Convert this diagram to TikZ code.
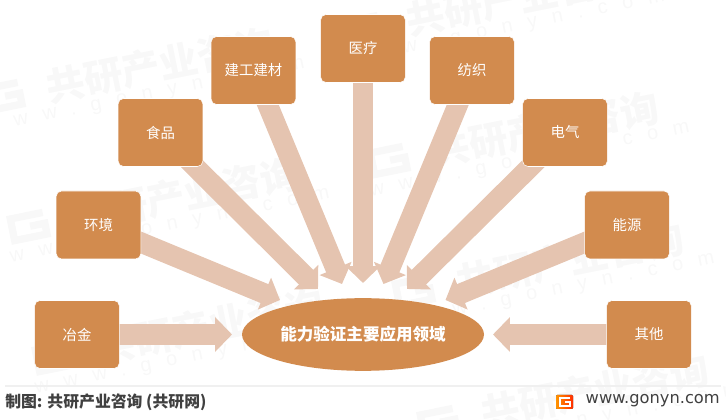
\documentclass[tikz,border=0pt]{standalone}
\usepackage{fontspec}
\setmainfont{Noto Sans CJK SC}
\newfontfamily\latinfont{DejaVu Sans}
\newfontfamily\markfont[LetterSpace=75]{Liberation Sans}
\usetikzlibrary{arrows.meta,backgrounds,shapes.geometric}
\definecolor{boxorange}{HTML}{D28B4E}
\definecolor{flowpink}{HTML}{E5C4B0}
\definecolor{markgray}{HTML}{F8F8F8}
\definecolor{footgray}{HTML}{F0F0F0}
\definecolor{foottext}{HTML}{404040}
\tikzset{
	appbox/.style={rectangle, rounded corners=4pt, draw=white, line width=0.4pt, fill=boxorange, text=white, minimum width=63.5pt, minimum height=51pt, inner sep=0pt, font=\fontsize{10.8}{12}\selectfont},
	hubell/.style={ellipse, fill=boxorange, text=white, minimum width=181.5pt, minimum height=54.5pt, inner sep=0pt, font=\fontsize{12.4}{14}\bfseries},
	flowarrow/.style={draw=flowpink, line width=15.3pt, -{Triangle[width=25.2pt,length=12.6pt,fill=flowpink]}},
	marktext/.style={text=markgray, rotate=11.4, font=\fontsize{29}{30}\bfseries},
	markweb/.style={text=markgray, rotate=11.4, font=\fontsize{15}{16}\markfont}
}

\begin{document}
\begin{tikzpicture}[x=0.75pt, y=-0.75pt]
	\useasboundingbox (0, 0) rectangle (726, 420);

	%%%%% BOXES %%%%%
	\node[appbox] (metal) at (77, 334.5) {冶金};
	\node[appbox] (envir) at (98.5, 225) {环境};
	\node[appbox] (food) at (160.5, 132.5) {食品};
	\node[appbox] (build) at (253.5, 70.5) {\raisebox{1pt}{建工建材}};
	\node[appbox] (medic) at (363, 48.5) {医疗};
	\node[appbox] (textile) at (472, 70.5) {\raisebox{1pt}{纺织}};
	\node[appbox] (electric) at (565, 132.5) {电气};
	\node[appbox] (energy) at (627, 225) {能源};
	\node[appbox] (other) at (649, 334.5) {其他};

	\node[hubell] (hub) at (363, 334.5) {能力验证主要应用领域};

	%%%%% ARROW ENDS %%%%%
	\coordinate (tipmetal) at (232, 334.5);
	\coordinate (tipenvir) at (280, 300);
	\coordinate (tipfood) at (318, 289);
	\coordinate (tipbuild) at (342, 284);
	\coordinate (tipmedic) at (363, 283);
	\coordinate (tiptextile) at (383.5, 284);
	\coordinate (tipelectric) at (407, 289);
	\coordinate (tipenergy) at (445.5, 300);
	\coordinate (tipother) at (493, 334.5);

	\begin{scope}[on background layer]
		% watermark
		\foreach \wx/\wy in {160/65, 185/195, 210/326, 520/-2, 545/129, 570/260, 595/391} {
			\node[marktext] at (\wx, \wy) {共研产业咨询};
			\node[markweb] at ({\wx-15}, {\wy+32}) {www.gonyn.com};
			\begin{scope}[shift={(\wx, \wy)}, rotate=11.4]
				\draw[markgray, line width=5.5pt] (-143, -11) -- (-176, -11) -- (-176, 11) -- (-143, 11) -- (-143, 0) -- (-158, 0);
			\end{scope}
		}
		\foreach \name in {metal, envir, food, build, medic, textile, electric, energy, other}
			\draw[flowarrow] (\name.center) -- (tip\name);
	\end{scope}

	%%%%% FOOTER %%%%%
	\draw[footgray, line width=0.9pt] (5, 386) -- (721, 386);
	\node[anchor=west, inner sep=0pt, text=foottext, font=\fontsize{11.9}{13}\bfseries] (source) at (5, 402) {制图: 共研产业咨询 (共研网)};
	\node[anchor=east, inner sep=0pt, text=foottext, font=\fontsize{12.2}{13}\latinfont] (site) at (720, 401) {www.gonyn.com};

	\fill[left color=orange!85!yellow, right color=red!65!orange, rounded corners=0.8pt] (556, 395) rectangle (573, 409);
	\draw[white, line width=1.1pt] (570, 398) -- (560, 398) -- (560, 406) -- (570, 406) -- (570, 402) -- (565, 402);
\end{tikzpicture}
\end{document}
